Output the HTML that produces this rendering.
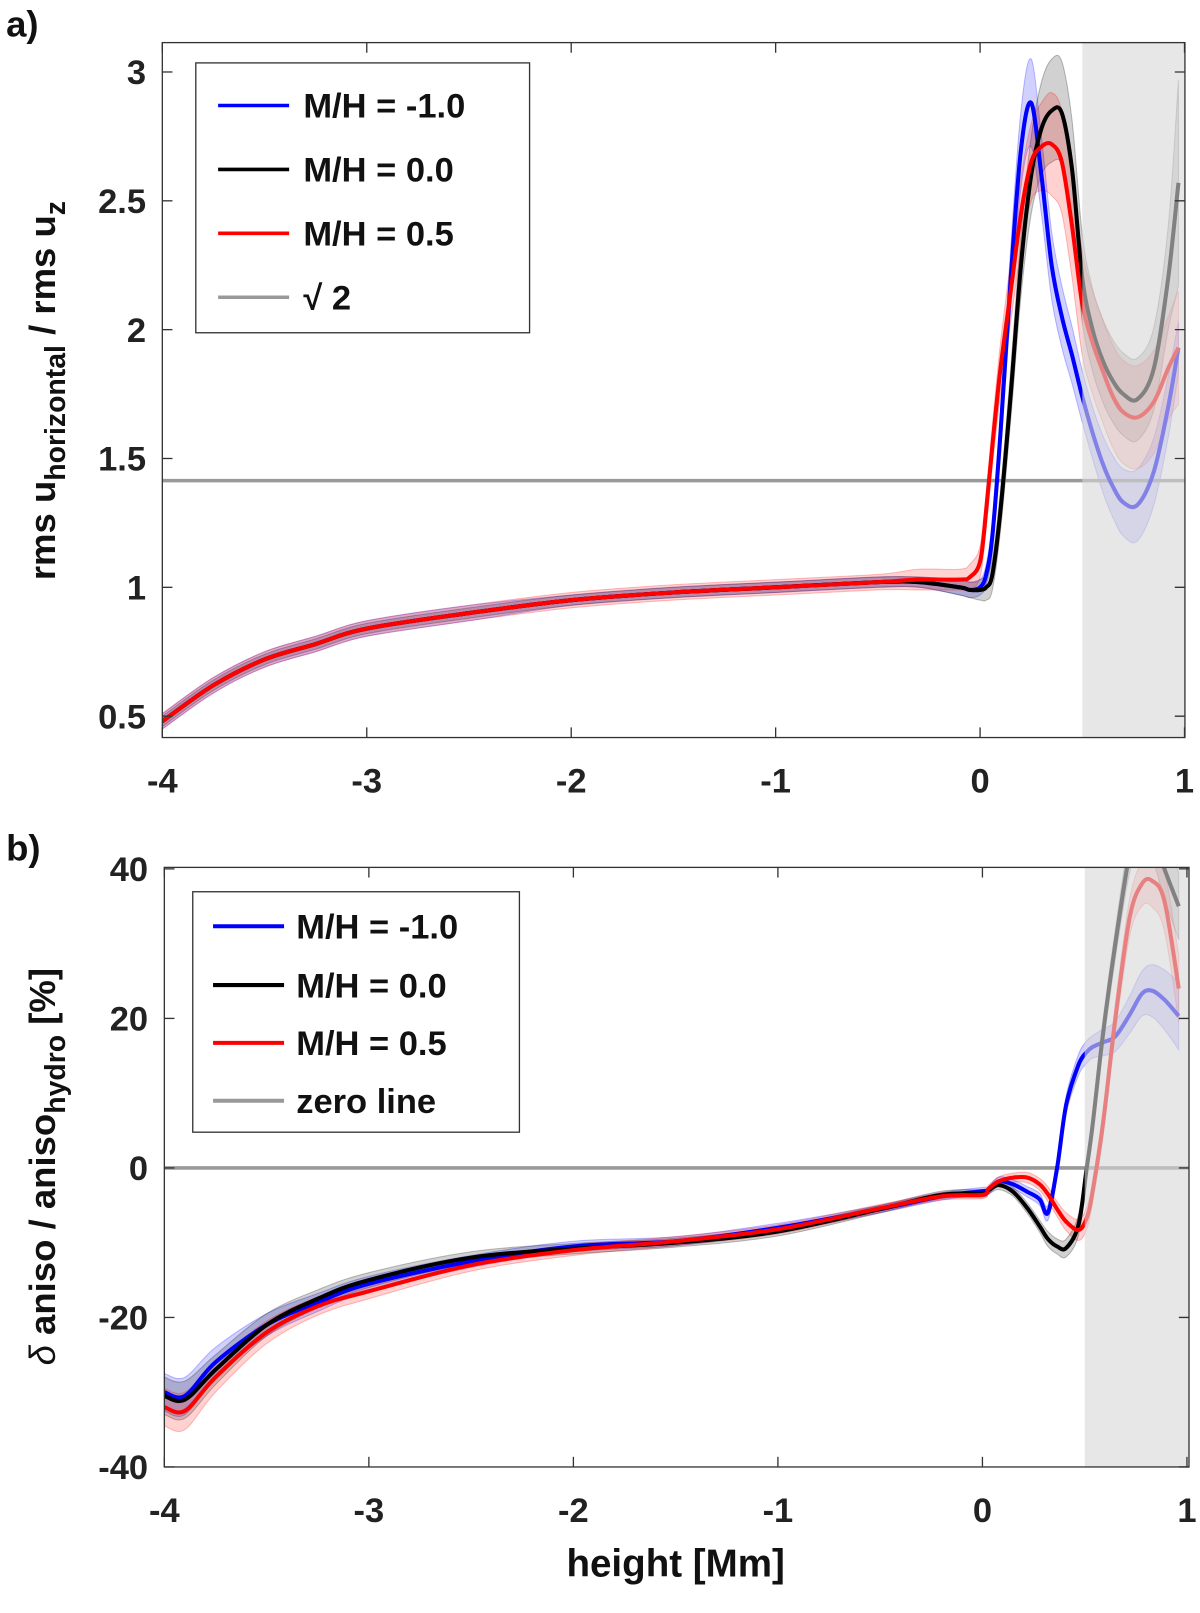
<!DOCTYPE html>
<html><head><meta charset="utf-8"><style>
html,body{margin:0;padding:0;background:#fff;overflow:hidden;width:1200px;height:1590px;}
svg{display:block;font-family:"Liberation Sans",Arial,sans-serif;font-weight:bold;}
.sc{position:absolute;left:0;top:0;transform:scale(1.0145);transform-origin:0 0;}
</style></head><body>
<svg id="fig" class="sc" width="1200" height="1590" viewBox="0 0 1200 1590">
<g id="pa"></g>
<g id="pb"></g>
</svg>
<script>
// ---------- Panel a data ----------
const aX = [-4,-3.75,-3.5,-3.25,-3,-2.5,-2,-1.5,-1,-0.5,-0.3,-0.1,-0.05,0,0.03,0.06,0.1,0.15,0.2,0.25,0.3,0.35,0.4,0.45,0.5,0.55,0.6,0.65,0.7,0.77,0.85,0.92,0.97];
const aBlue  = [0.48,0.62,0.72,0.78,0.84,0.90,0.95,0.98,1.00,1.02,1.02,1.00,0.99,1.00,1.05,1.20,1.60,2.20,2.70,2.88,2.60,2.25,2.05,1.90,1.74,1.60,1.48,1.39,1.33,1.32,1.45,1.70,1.93];
const aBlack = [0.48,0.62,0.72,0.78,0.84,0.90,0.95,0.98,1.00,1.02,1.02,1.00,0.99,0.99,1.00,1.05,1.30,1.75,2.25,2.60,2.78,2.85,2.84,2.62,2.20,2.00,1.88,1.80,1.75,1.73,1.85,2.20,2.57];
const aRed   = [0.48,0.62,0.72,0.78,0.84,0.90,0.95,0.98,1.00,1.02,1.03,1.03,1.04,1.10,1.30,1.55,1.85,2.15,2.45,2.65,2.71,2.72,2.65,2.40,2.10,1.95,1.84,1.74,1.68,1.66,1.72,1.85,1.93];
const aBandBlue  = [0.03,0.03,0.03,0.03,0.03,0.03,0.02,0.02,0.02,0.02,0.02,0.03,0.03,0.03,0.04,0.06,0.08,0.12,0.15,0.17,0.15,0.13,0.12,0.11,0.10,0.10,0.11,0.12,0.13,0.14,0.13,0.12,0.1];
const aBandBlack = [0.02,0.02,0.02,0.02,0.02,0.02,0.02,0.02,0.02,0.02,0.02,0.03,0.03,0.04,0.05,0.06,0.08,0.1,0.12,0.15,0.18,0.2,0.2,0.19,0.17,0.16,0.16,0.16,0.16,0.16,0.16,0.2,0.4];
const aBandRed   = [0.03,0.03,0.03,0.03,0.03,0.03,0.03,0.03,0.03,0.03,0.04,0.04,0.05,0.06,0.07,0.08,0.1,0.12,0.14,0.15,0.17,0.2,0.2,0.2,0.2,0.2,0.2,0.2,0.2,0.2,0.2,0.2,0.22];
const aXTicks = [-4,-3,-2,-1,0,1];
const aYTicks = [0.5,1,1.5,2,2.5,3];
const aYLabels = ["0.5","1","1.5","2","2.5","3"];
const aRef = 1.4142;

// ---------- Panel b data ----------
const bX = [-4,-3.9,-3.75,-3.5,-3.25,-3,-2.5,-2,-1.5,-1,-0.5,-0.2,0,0.03,0.08,0.15,0.22,0.28,0.32,0.365,0.41,0.47,0.51,0.54,0.59,0.65,0.72,0.78,0.83,0.89,0.96];
const bBlue  = [-30,-30.5,-26,-21,-18,-15.5,-12.5,-10.5,-9.8,-8,-5.5,-3.8,-3.1,-3.0,-1.8,-2.2,-3.2,-4.2,-6.0,0,8.5,13.8,15.5,16.2,16.8,17.6,20.5,23.3,23.7,22.5,20.3];
const bBlack = [-30.5,-31,-27,-21,-17.5,-15,-12,-10.8,-10,-8.5,-5.5,-3.6,-3.4,-3.0,-2.3,-3.2,-5.4,-7.8,-9.5,-10.5,-10.7,-7.6,0,6,18,30,42,47,45,40,35];
const bRed   = [-32,-32.5,-28,-22,-18.5,-16.5,-13,-11,-9.8,-8.2,-5.4,-3.8,-3.6,-2.8,-1.8,-1.3,-1.3,-2.2,-3.5,-5.5,-7.2,-8.3,-6.7,-3,6,20,33.5,38,38.4,35.7,24];
const bBand = [2.5,2.5,2,1.5,1.2,1,0.8,0.7,0.6,0.6,0.5,0.5,0.5,0.5,0.6,0.6,0.7,0.8,1,1,1.2,1.4,1.5,1.5,1.8,2,2.5,3,3.5,4,4.5];
const bXTicks = [-4,-3,-2,-1,0,1];
const bYTicks = [-40,-20,0,20,40];
const bYLabels = ["-40","-20","0","20","40"];
const bRef = 0;

const NS = "http://www.w3.org/2000/svg";
function mk(parent, tag, attrs){
  const e = document.createElementNS(NS, tag);
  for (const k in attrs) e.setAttribute(k, attrs[k]);
  parent.appendChild(e);
  return e;
}
function smoothPath(pts){
  let d = "M" + pts[0][0].toFixed(1) + "," + pts[0][1].toFixed(1);
  for (let i=0;i<pts.length-1;i++){
    const p0 = pts[Math.max(0,i-1)], p1 = pts[i], p2 = pts[i+1], p3 = pts[Math.min(pts.length-1,i+2)];
    const c1x = p1[0]+(p2[0]-p0[0])/6, c1y = p1[1]+(p2[1]-p0[1])/6;
    const c2x = p2[0]-(p3[0]-p1[0])/6, c2y = p2[1]-(p3[1]-p1[1])/6;
    d += " C"+c1x.toFixed(1)+","+c1y.toFixed(1)+" "+c2x.toFixed(1)+","+c2y.toFixed(1)+" "+p2[0].toFixed(1)+","+p2[1].toFixed(1);
  }
  return d;
}

function panel(g, cfg){
  const {L,R,T,B,xmin,xmax,ymin,ymax} = cfg;
  const sx = v => L + (v - xmin) / (xmax - xmin) * (R - L);
  const sy = v => B - (v - ymin) / (ymax - ymin) * (B - T);
  const cid = "clip" + cfg.id;
  const defs = mk(g, "defs", {});
  const cp = mk(defs, "clipPath", {id: cid});
  mk(cp, "rect", {x: L, y: T, width: R - L, height: B - T});
  const plot = mk(g, "g", {"clip-path": "url(#" + cid + ")"});
  
  
  cfg.series.forEach(s => {
    const up = cfg.x.map((x,i)=>[sx(x), sy(s.y[i] + s.band[i])]);
    const lo = cfg.x.map((x,i)=>[sx(x), sy(s.y[i] - s.band[i])]).reverse();
    const d = smoothPath(up) + " L" + smoothPath(lo).slice(1) + " Z";
    const bp = mk(plot, "path", {d: d, fill: s.color, "fill-opacity": 0.18, stroke: s.color, "stroke-opacity": 0.25, "stroke-width": 1});
    
    
  });
  const rl = mk(plot, "line", {x1: L, x2: R, y1: sy(cfg.ref), y2: sy(cfg.ref), stroke: "#999", "stroke-width": 3.5});
  
  
  cfg.series.forEach(s => {
    const pts = cfg.x.map((x,i)=>[sx(x), sy(s.y[i])]);
    const ln = mk(plot, "path", {d: smoothPath(pts), fill: "none", stroke: s.color, "stroke-width": 4, "stroke-linejoin": "round"});
    
    
  });
  const sh = mk(plot, "rect", {x: sx(0.5), y: T, width: R - sx(0.5), height: B - T, fill: "rgb(215,215,215)", "fill-opacity": 0.6});
  
  
  const box = mk(g, "rect", {x: L, y: T, width: R - L, height: B - T, fill: "none", stroke: "#333", "stroke-width": 1.3});
  
  
  cfg.xticks.forEach(t => {
    const x = sx(t);
    mk(g, "line", {x1:x,x2:x,y1:B,y2:B-10,stroke:"#333","stroke-width":1.3});
    mk(g, "line", {x1:x,x2:x,y1:T,y2:T+10,stroke:"#333","stroke-width":1.3});
    const tx = mk(g, "text", {x: x, y: B + 54, "text-anchor": "middle", "font-size": 34, fill: "#222"});
    tx.textContent = String(t);
    
    
  });
  cfg.yticks.forEach((t,i) => {
    const y = sy(t);
    mk(g, "line", {x1:L,x2:L+10,y1:y,y2:y,stroke:"#333","stroke-width":1.3});
    mk(g, "line", {x1:R,x2:R-10,y1:y,y2:y,stroke:"#333","stroke-width":1.3});
    const ty = mk(g, "text", {x: L - 16, y: y + 12, "text-anchor": "end", "font-size": 34, fill: "#222"});
    ty.textContent = cfg.ylabels[i];
    
    
  });
}

const colors = {blue: "#0000ff", black: "#000000", red: "#ff0000"};
panel(document.getElementById("pa"), {id:"a", L:160, R:1168, T:42, B:727, xmin:-4, xmax:1.002, ymin:0.417, ymax:3.114,
  x: aX, ref: aRef, xticks: aXTicks, yticks: aYTicks, ylabels: aYLabels,
  series: [
    {name:"mh-neg1", color: colors.blue, y: aBlue, band: aBandBlue},
    {name:"mh-0", color: colors.black, y: aBlack, band: aBandBlack},
    {name:"mh-05", color: colors.red, y: aRed, band: aBandRed}
  ]});
panel(document.getElementById("pb"), {id:"b", L:162, R:1172, T:855, B:1446, xmin:-4, xmax:1.01, ymin:-40, ymax:40.2,
  x: bX, ref: bRef, xticks: bXTicks, yticks: bYTicks, ylabels: bYLabels,
  series: [
    {name:"mh-neg1", color: colors.blue, y: bBlue, band: bBand},
    {name:"mh-0", color: colors.black, y: bBlack, band: bBand},
    {name:"mh-05", color: colors.red, y: bRed, band: bBand}
  ]});
</script>
<svg class="sc" width="1200" height="1590">
  <g font-family="Liberation Sans, Arial, sans-serif" font-weight="bold" fill="#111">
    <text x="6" y="36" font-size="36">a)</text>
    <text x="6" y="848" font-size="36">b)</text>
    <g>
      <rect x="193" y="62" width="329" height="266" fill="#fff" stroke="#333" stroke-width="1.3"/>
      <line x1="215" x2="285" y1="104" y2="104" stroke="#0000ff" stroke-width="3.5"/>
      <text x="299" y="116" font-size="34">M/H = -1.0</text>
      <line x1="215" x2="285" y1="167" y2="167" stroke="#000" stroke-width="3.5"/>
      <text x="299" y="179" font-size="34">M/H = 0.0</text>
      <line x1="215" x2="285" y1="230" y2="230" stroke="#ff0000" stroke-width="3.5"/>
      <text x="299" y="242" font-size="34">M/H = 0.5</text>
      <line x1="215" x2="285" y1="293" y2="293" stroke="#999" stroke-width="3.5"/>
      <text x="299" y="305" font-size="34">√ 2</text>
    </g>
    <g>
      <rect x="190" y="879" width="322" height="237" fill="#fff" stroke="#333" stroke-width="1.3"/>
      <line x1="210" x2="280" y1="913" y2="913" stroke="#0000ff" stroke-width="4"/>
      <text x="292" y="925" font-size="34">M/H = -1.0</text>
      <line x1="210" x2="280" y1="971" y2="971" stroke="#000" stroke-width="4"/>
      <text x="292" y="983" font-size="34">M/H = 0.0</text>
      <line x1="210" x2="280" y1="1028" y2="1028" stroke="#ff0000" stroke-width="4"/>
      <text x="292" y="1040" font-size="34">M/H = 0.5</text>
      <line x1="210" x2="280" y1="1085" y2="1085" stroke="#999" stroke-width="4"/>
      <text x="292" y="1097" font-size="34">zero line</text>
    </g>
    <text transform="translate(54,385) rotate(-90)" text-anchor="middle" font-size="36">rms u<tspan font-size="28" dy="10">horizontal</tspan><tspan dy="-10"> / rms u</tspan><tspan font-size="28" dy="10">z</tspan></text>
    <text transform="translate(54,1150) rotate(-90)" text-anchor="middle" font-size="36"><tspan font-style="italic" font-weight="normal">δ</tspan> aniso / aniso<tspan font-size="28" dy="10">hydro</tspan><tspan dy="-10">    [%]</tspan></text>
    <text x="666" y="1554" text-anchor="middle" font-size="38">height [Mm]</text>
  </g>
</svg>
</body></html>
